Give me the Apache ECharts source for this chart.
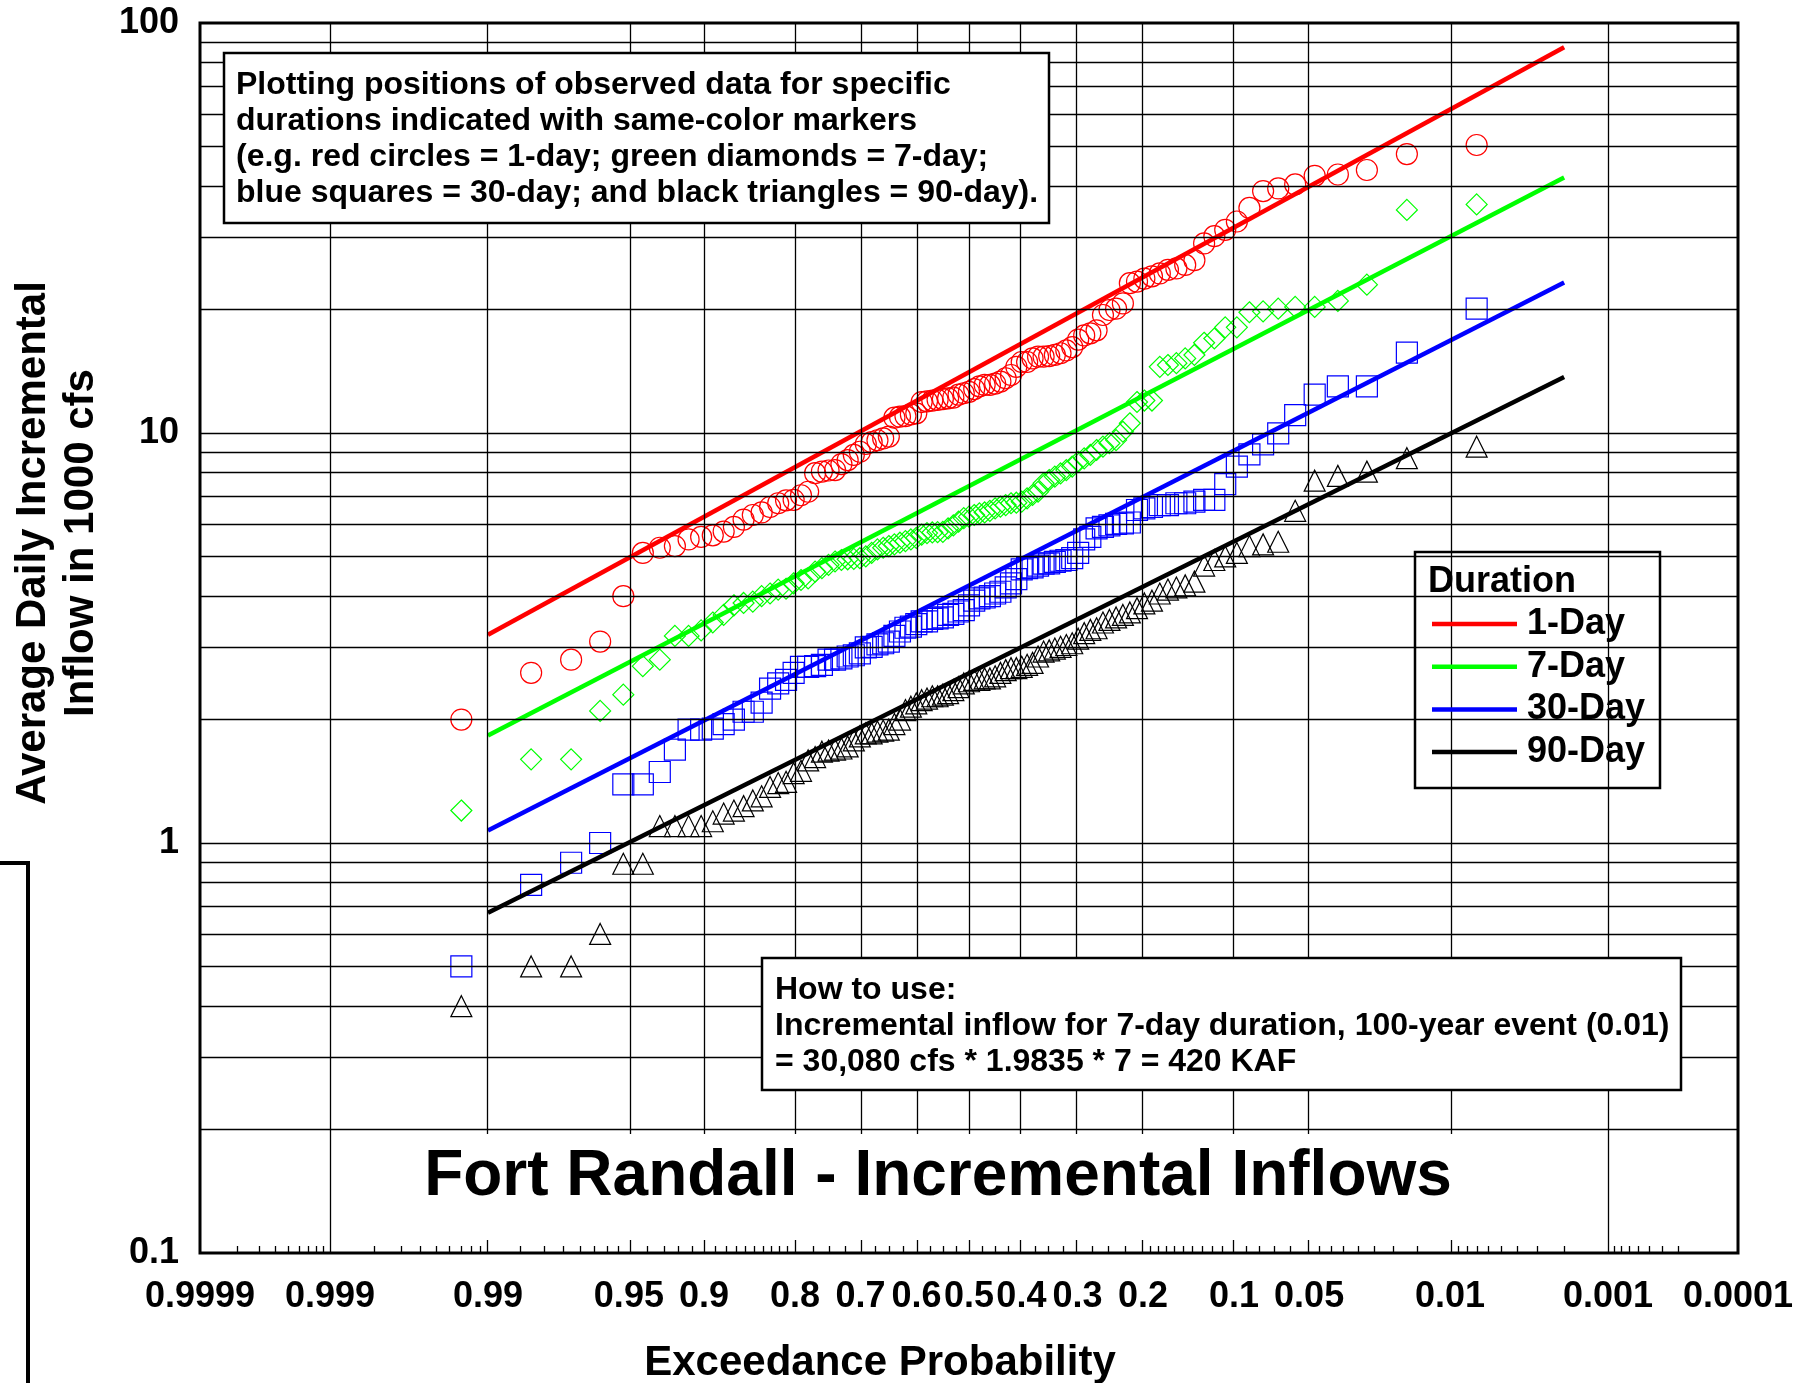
<!DOCTYPE html>
<html><head><meta charset="utf-8">
<script src="https://cdn.jsdelivr.net/npm/echarts@6/dist/echarts.min.js"></script>
<style>html,body{margin:0;padding:0;background:#fff}#c{width:1808px;height:1383px}</style>
</head><body><div id="c"></div>
<script>
// ---------------- data ----------------
// Observed values, sorted ascending (1000 cfs); plotted at median-rank plotting positions
const oneDay = [2.0, 2.6, 2.8, 3.1, 4.0, 5.1, 5.25, 5.3, 5.5, 5.58,
 5.63, 5.75, 5.9, 6.15, 6.31, 6.4, 6.6, 6.74, 6.85, 6.87,
 7.05, 7.19, 7.98, 8.05, 8.1, 8.12, 8.4, 8.59, 8.84, 9.0,
 9.4, 9.5, 9.6, 9.7, 9.8, 10.9, 10.96, 11.0, 11.1, 11.17,
 11.9, 11.95, 12.0, 12.05, 12.1, 12.15, 12.2, 12.4, 12.5, 12.6,
 12.8, 13.0, 13.1, 13.1, 13.2, 13.35, 13.6, 13.85, 14.5, 14.9,
 14.9, 15.2, 15.35, 15.35, 15.4, 15.5, 15.65, 15.9, 16.2, 16.9,
 17.3, 17.5, 17.8, 19.4, 19.95, 20.1, 20.7, 23.2, 23.4, 23.8,
 24.1, 24.5, 25.0, 25.2, 25.7, 26.4, 29.0, 30.2, 31.3, 32.8,
 35.4, 38.9, 39.5, 40.4, 42.4, 42.7, 43.8, 47.9, 50.4];
const sevenDay = [1.2, 1.6, 1.6, 2.1, 2.3, 2.7, 2.8, 3.2, 3.2, 3.3,
 3.45, 3.6, 3.8, 3.85, 3.88, 4.0, 4.06, 4.15, 4.17, 4.3,
 4.38, 4.42, 4.59, 4.68, 4.77, 4.86, 4.9, 4.92, 4.93, 4.95,
 5.0, 5.1, 5.2, 5.25, 5.3, 5.35, 5.4, 5.45, 5.5, 5.55,
 5.65, 5.7, 5.72, 5.73, 5.74, 5.85, 5.95, 6.08, 6.2, 6.25,
 6.31, 6.37, 6.4, 6.46, 6.55, 6.61, 6.67, 6.74, 6.76, 6.8,
 6.93, 7.06, 7.19, 7.54, 7.68, 7.83, 7.97, 8.12, 8.28, 8.51,
 8.67, 8.84, 9.09, 9.26, 9.44, 9.61, 10.07, 10.56, 11.9, 12.0,
 12.0, 14.5, 14.65, 14.8, 15.2, 15.5, 16.6, 17.0, 18.1, 18.1,
 19.7, 19.8, 20.1, 20.3, 20.3, 21.0, 23.0, 35.0, 36.1];
const thirtyDay = [0.5, 0.79, 0.895, 1.0, 1.39, 1.39, 1.49, 1.69, 1.89, 1.89,
 1.9, 1.95, 2.0, 2.09, 2.09, 2.2, 2.38, 2.45, 2.5, 2.6,
 2.69, 2.69, 2.7, 2.72, 2.8, 2.8, 2.82, 2.85, 2.87, 2.9,
 3.0, 3.01, 3.05, 3.07, 3.1, 3.2, 3.28, 3.35, 3.37, 3.42,
 3.47, 3.47, 3.52, 3.53, 3.55, 3.6, 3.62, 3.67, 3.7, 3.8,
 3.9, 3.95, 3.97, 4.0, 4.06, 4.1, 4.2, 4.3, 4.4, 4.65,
 4.68, 4.7, 4.75, 4.8, 4.81, 4.85, 4.88, 4.9, 4.95, 5.1,
 5.5, 5.58, 5.85, 5.9, 5.95, 6.0, 6.02, 6.05, 6.49, 6.55,
 6.6, 6.67, 6.67, 6.74, 6.74, 6.8, 6.87, 6.87, 7.5, 8.28,
 8.87, 9.38, 9.98, 11.06, 12.4, 13.0, 13.0, 15.7, 20.1];
const ninetyDay = [0.4, 0.5, 0.5, 0.6, 0.89, 0.89, 1.1, 1.1, 1.1, 1.1,
 1.13, 1.18, 1.2, 1.23, 1.27, 1.3, 1.37, 1.4, 1.41, 1.48,
 1.5, 1.59, 1.62, 1.67, 1.68, 1.69, 1.7, 1.72, 1.78, 1.82,
 1.85, 1.85, 1.87, 1.88, 1.89, 1.95, 2.0, 2.11, 2.15, 2.19,
 2.23, 2.25, 2.28, 2.28, 2.3, 2.32, 2.36, 2.4, 2.45, 2.48,
 2.5, 2.5, 2.52, 2.52, 2.55, 2.6, 2.64, 2.67, 2.67, 2.69,
 2.72, 2.75, 2.85, 2.93, 2.95, 2.98, 3.01, 3.04, 3.07, 3.15,
 3.25, 3.31, 3.34, 3.45, 3.5, 3.55, 3.6, 3.65, 3.74, 3.84,
 3.9, 4.06, 4.15, 4.2, 4.25, 4.34, 4.75, 4.9, 5.0, 5.1,
 5.3, 5.35, 5.43, 6.46, 7.65, 7.86, 8.05, 8.68, 9.26];

// fitted lines: exceedance probability of the two ends and values there
const fitProbs = [0.99, 0.002];
const fit1Day = [3.22, 87.3];
const fit7Day = [1.83, 42.0];
const fit30Day = [1.072, 23.3];
const fit90Day = [0.676, 13.7];

const durationNames = ['1-Day', '7-Day', '30-Day', '90-Day'];
const durationColors = ['#ff0000', '#00ff00', '#0000ff', '#000000'];
const markerSymbols = ['circle', 'diamond', 'rect', 'triangle'];

// axis ticks
const probTickLabels = ['0.9999', '0.999', '0.99', '0.95', '0.9', '0.8', '0.7', '0.6', '0.5', '0.4', '0.3', '0.2', '0.1', '0.05', '0.01', '0.001', '0.0001'];
const probGridValues = [0.999, 0.99, 0.95, 0.9, 0.8, 0.7, 0.6, 0.5, 0.4, 0.3, 0.2, 0.1, 0.05, 0.01, 0.001];
const probMinorTicks = [0.9998, 0.9997, 0.9996, 0.9995, 0.9994, 0.9993, 0.9992, 0.9991,
 0.998, 0.997, 0.996, 0.995, 0.994, 0.993, 0.992, 0.991,
 0.985, 0.98, 0.975, 0.97, 0.965, 0.96, 0.955,
 0.94, 0.93, 0.92, 0.91,
 0.89, 0.88, 0.87, 0.86, 0.85, 0.84, 0.83, 0.82, 0.81,
 0.775, 0.75, 0.725, 0.675, 0.65, 0.625, 0.575, 0.55, 0.525,
 0.475, 0.45, 0.425, 0.375, 0.35, 0.325, 0.275, 0.25, 0.225,
 0.19, 0.18, 0.17, 0.16, 0.15, 0.14, 0.13, 0.12, 0.11,
 0.09, 0.08, 0.07, 0.06,
 0.045, 0.04, 0.035, 0.03, 0.025, 0.02, 0.015,
 0.009, 0.008, 0.007, 0.006, 0.005, 0.004, 0.003, 0.002,
 0.0009, 0.0008, 0.0007, 0.0006, 0.0005, 0.0004, 0.0003];
const flowTickLabels = [0.1, 1, 10, 100];
const flowGridValues = [0.2, 0.3, 0.4, 0.5, 0.6, 0.7, 0.8, 0.9, 1, 2, 3, 4, 5, 6, 7, 8, 9, 10, 20, 30, 40, 50, 60, 70, 80, 90];

const noteLines = ['Plotting positions of observed data for specific',
 'durations indicated with same-color markers',
 '(e.g. red circles = 1-day; green diamonds = 7-day;',
 'blue squares = 30-day; and black triangles = 90-day).'];
const howToLines = ['How to use:',
 'Incremental inflow for 7-day duration, 100-year event (0.01)',
 '= 30,080 cfs * 1.9835 * 7 = 420 KAF'];
const chartTitle = 'Fort Randall - Incremental Inflows';
const xName = 'Exceedance Probability';
const yName = 'Average Daily Incremental\nInflow in 1000 cfs';

// ---------------- probability-paper scale ----------------
function normInv(p) {
  const a = [-3.969683028665376e+01, 2.209460984245205e+02, -2.759285104469687e+02, 1.383577518672690e+02, -3.066479806614716e+01, 2.506628277459239e+00];
  const b = [-5.447609879822406e+01, 1.615858368580409e+02, -1.556989798598866e+02, 6.680131188771972e+01, -1.328068155288572e+01];
  const c = [-7.784894002430293e-03, -3.223964580411365e-01, -2.400758277161838e+00, -2.549732539343734e+00, 4.374664141464968e+00, 2.938163982698783e+00];
  const d = [7.784695709041462e-03, 3.224671290700398e-01, 2.445134137142996e+00, 3.754408661907416e+00];
  const pl = 0.02425, ph = 1 - pl;
  let q, r;
  if (p < pl) { q = Math.sqrt(-2 * Math.log(p)); return (((((c[0]*q+c[1])*q+c[2])*q+c[3])*q+c[4])*q+c[5]) / ((((d[0]*q+d[1])*q+d[2])*q+d[3])*q+1); }
  if (p <= ph) { q = p - 0.5; r = q*q; return (((((a[0]*r+a[1])*r+a[2])*r+a[3])*r+a[4])*r+a[5])*q / (((((b[0]*r+b[1])*r+b[2])*r+b[3])*r+b[4])*r+1); }
  q = Math.sqrt(-2 * Math.log(1 - p));
  return -(((((c[0]*q+c[1])*q+c[2])*q+c[3])*q+c[4])*q+c[5]) / ((((d[0]*q+d[1])*q+d[2])*q+d[3])*q+1);
}
const zOf = pExc => normInv(1 - pExc);
const zLabels = probTickLabels.map(s => ({ z: zOf(parseFloat(s)), s }));
const xMin = zOf(0.9999), xMax = zOf(0.0001);

// median-rank plotting position (exceedance) for rank i of n ascending values
const plotPos = (i, n) => 1 - (i + 1 - 0.3) / (n + 0.4);
const obsSets = [oneDay, sevenDay, thirtyDay, ninetyDay];
const fitSets = [fit1Day, fit7Day, fit30Day, fit90Day];

const FONT = '"Liberation Sans", Arial, sans-serif';

const series = [];
// grid lines
series.push({
  type: 'line', name: 'grid', data: [], z: 1, silent: true,
  markLine: {
    silent: true, symbol: ['none', 'none'], animation: false, label: { show: false },
    lineStyle: { color: '#000', width: 1.3, type: 'solid' },
    emphasis: { disabled: true },
    data: probGridValues.map(p => ({ xAxis: zOf(p) })).concat(flowGridValues.map(v => ({ yAxis: v })))
  }
});
obsSets.forEach((vals, k) => {
  series.push({
    type: 'scatter', name: 'obs ' + durationNames[k], z: 3,
    symbol: markerSymbols[k], symbolSize: 21,
    itemStyle: { color: 'rgba(0,0,0,0)', borderColor: durationColors[k], borderWidth: 1.2, opacity: 1 },
    data: vals.map((v, i) => [zOf(plotPos(i, vals.length)), v])
  });
});
fitSets.forEach((vals, k) => {
  series.push({
    type: 'line', name: durationNames[k], z: 4, symbol: 'none', showSymbol: false,
    lineStyle: { color: durationColors[k], width: 4.5 },
    itemStyle: { color: durationColors[k] },
    data: vals.map((v, j) => [zOf(fitProbs[j]), v])
  });
});

const chart = echarts.init(document.getElementById('c'), null, { renderer: 'canvas' });
const boldText = (size) => `bold ${size}px ${FONT}`;
const graphic = [];
// left-edge bracket artifact
graphic.push({ type: 'polyline', z: 10, shape: { points: [[0, 863], [28, 863], [28, 1390]] }, style: { stroke: '#000', lineWidth: 4, fill: null } });
// note box
graphic.push({ type: 'rect', z: 10, shape: { x: 224, y: 53, width: 825, height: 170 }, style: { fill: '#fff', stroke: '#000', lineWidth: 2.5 } });
noteLines.forEach((t, i) => graphic.push({ type: 'text', z: 11, style: { text: t, x: 236, y: 85 + i * 36.2, font: boldText(32), fill: '#000', verticalAlign: 'middle' } }));
// how to use box
graphic.push({ type: 'rect', z: 10, shape: { x: 762, y: 958, width: 919, height: 132 }, style: { fill: '#fff', stroke: '#000', lineWidth: 2.5 } });
howToLines.forEach((t, i) => graphic.push({ type: 'text', z: 11, style: { text: t, x: 775, y: 990 + i * 36, font: boldText(32), fill: '#000', verticalAlign: 'middle' } }));
// legend box + heading
graphic.push({ type: 'rect', z: 3, shape: { x: 1415, y: 552, width: 245, height: 236 }, style: { fill: '#fff', stroke: '#000', lineWidth: 2.5 } });
graphic.push({ type: 'text', z: 11, style: { text: 'Duration', x: 1428, y: 582, font: boldText(36), fill: '#000', verticalAlign: 'middle' } });
// title with white background
graphic.push({ type: 'rect', z: 10, shape: { x: 409, y: 1134, width: 1053, height: 106 }, style: { fill: '#fff' } });
graphic.push({ type: 'text', z: 11, style: { text: chartTitle, x: 938, y: 1177, font: boldText(64), fill: '#000', align: 'center', verticalAlign: 'middle' } });
// axis names
graphic.push({ type: 'text', z: 11, x: 57, y: 543, rotation: Math.PI / 2, style: { text: yName, x: 0, y: 0, font: boldText(42), lineHeight: 48, fill: '#000', align: 'center', verticalAlign: 'middle' } });
graphic.push({ type: 'text', z: 11, style: { text: xName, x: 880, y: 1363, font: boldText(42), fill: '#000', align: 'center', verticalAlign: 'middle' } });

chart.setOption({
  animation: false,
  backgroundColor: '#fff',
  grid: { left: 200, right: 70, top: 23, bottom: 130, show: true, borderColor: '#000', borderWidth: 3, backgroundColor: 'transparent', containLabel: false },
  xAxis: {
    type: 'value', min: xMin, max: xMax,
    axisLine: { show: false },
    splitLine: { show: false },
    axisTick: { show: true, inside: true, length: 7, customValues: probMinorTicks.map(zOf), lineStyle: { color: '#000', width: 1.3 } },
    axisLabel: {
      show: true, margin: 26, color: '#000', fontSize: 36, fontWeight: 'bold', fontFamily: FONT,
      customValues: zLabels.map(o => o.z),
      formatter: (v) => { let best = zLabels[0]; zLabels.forEach(o => { if (Math.abs(o.z - v) < Math.abs(best.z - v)) best = o; }); return best.s; }
    }
  },
  yAxis: {
    type: 'log', logBase: 10, min: 0.1, max: 100,
    axisLine: { show: false }, axisTick: { show: false }, splitLine: { show: false }, minorTick: { show: false },
    axisLabel: { margin: 21, color: '#000', fontSize: 36, fontWeight: 'bold', fontFamily: FONT,
      customValues: flowTickLabels,
      formatter: v => { let best = flowTickLabels[0]; flowTickLabels.forEach(t => { if (Math.abs(Math.log10(t) - Math.log10(v)) < Math.abs(Math.log10(best) - Math.log10(v))) best = t; }); return String(best); } }
  },
  legend: {
    data: durationNames.map(n => ({ name: n, icon: 'rect' })), orient: 'vertical', left: 1427, top: 601, itemWidth: 85, itemHeight: 4.5, itemGap: 6.7,
    selectedMode: false, z: 12,
    textStyle: { fontSize: 36, fontWeight: 'bold', color: '#000', fontFamily: FONT, lineHeight: 36, padding: [0, 0, 0, 5] }
  },
  graphic: graphic,
  series: series
});
</script>
</body></html>
